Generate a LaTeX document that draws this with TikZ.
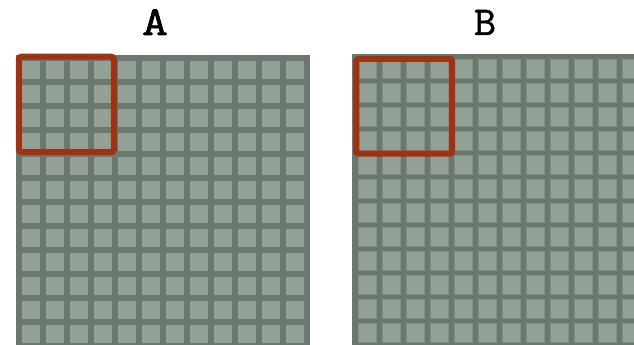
\documentclass[tikz,border=0pt]{standalone}
\usepackage{fontspec}
\newfontfamily\labfontA{Latin Modern Mono}[FakeBold=1.8,FakeStretch=1.22]
\newfontfamily\labfontB{Latin Modern Mono}[FakeBold=1.2,FakeStretch=1.05]
\definecolor{gridbg}{RGB}{107,120,112}
\definecolor{cellfill}{RGB}{146,160,150}
\definecolor{cellline}{RGB}{130,145,135}
\definecolor{boxred}{RGB}{158,50,18}
\tikzset{
  gridback/.style={fill=gridbg, draw=none},
  cellA/.style={fill=cellfill, draw=none},
  cellB/.style={fill=cellfill, draw=cellline, line width=0.6pt},
  redbox/.style={draw=boxred, line width=6pt, rounded corners=2.5pt},
  lab/.style={inner sep=0pt, anchor=base}
}
\begin{document}
\begin{tikzpicture}[x=1pt,y=-1pt]
\useasboundingbox (0,0) rectangle (634,345);
\clip (0,0) rectangle (634,345);
\fill[white] (0,0) rectangle (634,345);
% labels
\node[lab, font=\labfontA\fontsize{41}{41}\selectfont] (labA) at (155,35) {A};
\node[lab, font=\labfontB\fontsize{41}{41}\selectfont] (labB) at (485,35) {B};
% grid A
\fill[gridback] (16,55) rectangle (310,349);
\foreach \i in {0,...,11}{
  \foreach \j in {0,...,11}{
    \fill[cellA] ({21.5+24*\i},{61+24*\j}) rectangle ++(18.5,18.3);
  }
}
% grid B
\fill[gridback] (352.3,54.3) rectangle (646.3,348.3);
\foreach \i in {0,...,11}{
  \foreach \j in {0,...,11}{
    \filldraw[cellB] ({358.3+24*\i},{59.5+24*\j}) rectangle ++(18.3,18.3);
  }
}
% red boxes
\draw[redbox] (18.9,56.7) rectangle (113.8,152);
\draw[redbox] (356.3,58.8) rectangle (452.2,153.7);
\end{tikzpicture}
\end{document}
